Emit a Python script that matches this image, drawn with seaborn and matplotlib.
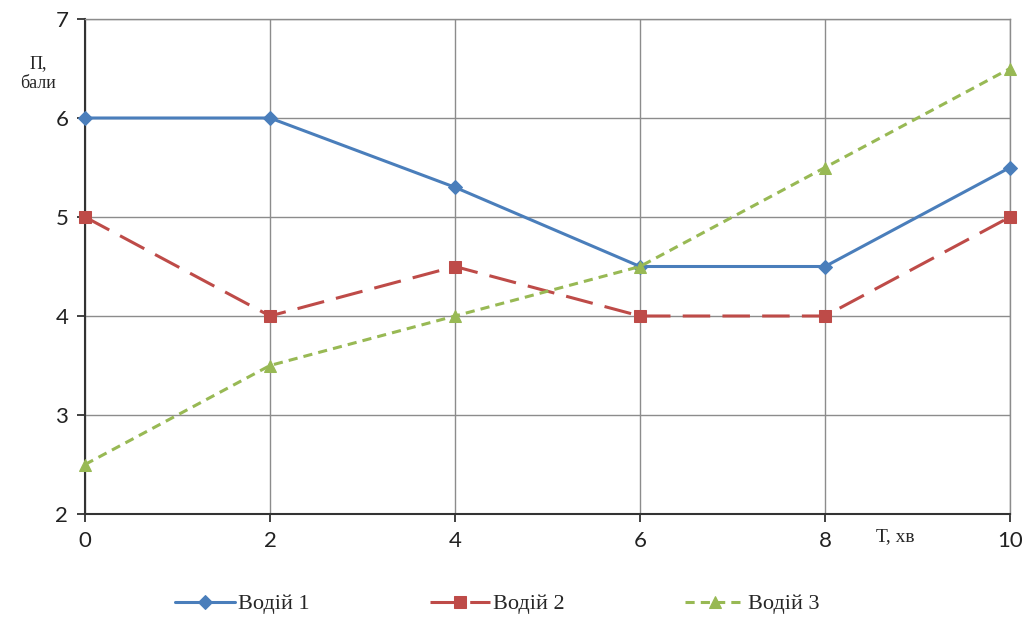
import matplotlib
matplotlib.use("Agg")
import matplotlib.pyplot as plt
import seaborn as sns
import pandas as pd

# Time points, minutes
t_min = [0, 2, 4, 6, 8, 10]
# Scores per driver
driver1 = [6, 6, 5.3, 4.5, 4.5, 5.5]
driver2 = [5, 4, 4.5, 4, 4, 5]
driver3 = [2.5, 3.5, 4, 4.5, 5.5, 6.5]
series_names = ["Водій 1", "Водій 2", "Водій 3"]

sns.set_style("white")
plt.rcParams["font.family"] = ["DejaVu Sans"]

fig = plt.figure(figsize=(10.27, 6.18), dpi=100)
ax = fig.add_axes([85 / 1027, 1 - 514 / 618, 925 / 1027, 495 / 618])

styles = [
    dict(color="#4A7EBB", marker="D", markersize=7, dashes=None),
    dict(color="#BE4B48", marker="s", markersize=9, dashes=(9, 4)),
    dict(color="#98B954", marker="^", markersize=9, dashes=(3, 2)),
]

for name, vals, st in zip(series_names, [driver1, driver2, driver3], styles):
    df = pd.DataFrame({"t": t_min, "v": vals})
    sns.lineplot(data=df, x="t", y="v", color=st["color"], marker=st["marker"],
                 markersize=st["markersize"], markeredgecolor=st["color"],
                 linewidth=2.2, label=name, ax=ax)
    ln = ax.lines[-1]
    if st["dashes"] is not None:
        ln.set_dashes(st["dashes"])
    ln.set_clip_on(False)
    ln.set_zorder(3)

ax.set_xlim(0, 10)
ax.set_ylim(2, 7)
ax.set_xticks(t_min)
ax.set_yticks([2, 3, 4, 5, 6, 7])
ax.grid(True, color="#8C8C8C", linewidth=1)
ax.set_axisbelow(True)
for s in ["top", "right"]:
    ax.spines[s].set_color("#8C8C8C")
    ax.spines[s].set_linewidth(1)
for s in ["left", "bottom"]:
    ax.spines[s].set_color("#333333")
    ax.spines[s].set_linewidth(1.5)
    ax.spines[s].set_zorder(2.5)
ax.tick_params(axis="both", which="both", direction="out", length=6, width=1.3,
               color="#333333", labelsize=16, labelcolor="#222222", pad=6,
               left=True, bottom=True)
for lab in ax.get_xticklabels() + ax.get_yticklabels():
    lab.set_family(["Lato", "DejaVu Sans"])
ax.set_xlabel("")
ax.set_ylabel("")

# Axis captions
fig.text(38 / 1027, 1 - 64 / 618, "П,", fontsize=13, family=["Liberation Serif"],
         ha="center", va="center")
fig.text(38 / 1027, 1 - 84 / 618, "бали", fontsize=13, family=["Liberation Serif"],
         ha="center", va="center")
fig.text(895 / 1027, 1 - 537 / 618, "Т, хв", fontsize=14, family=["Liberation Serif"],
         ha="center", va="center")

fig.legend(loc="center", bbox_to_anchor=(497 / 1027, 1 - 604 / 618), ncol=3,
           frameon=False, prop={"family": "Liberation Serif", "size": 16},
           handlelength=2.7, columnspacing=5.4, handletextpad=0.15)
ax.get_legend().remove()

fig.savefig("out.png", dpi=100)
